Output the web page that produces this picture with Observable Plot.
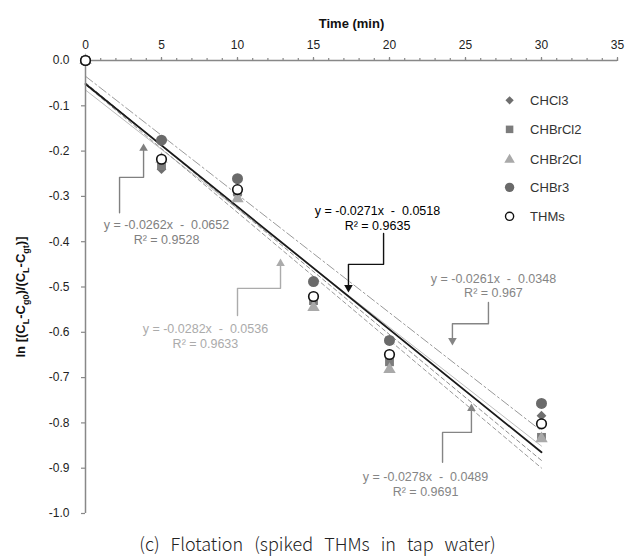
<!DOCTYPE html>
<html><head><meta charset="utf-8">
<script src="https://cdn.jsdelivr.net/npm/d3@7"></script>
<script src="https://cdn.jsdelivr.net/npm/@observablehq/plot@0.6"></script>
<style>
body{margin:0;background:#fff;}
#wrap{position:relative;width:635px;height:558px;overflow:hidden;}
#cap{position:absolute;left:0;top:530px;width:635px;text-align:center;font-family:"Noto Sans CJK KR","Noto Sans",sans-serif;font-size:18px;font-weight:300;word-spacing:7px;color:#222;line-height:26px;}
</style></head><body>
<div id="wrap"><div id="chart"></div><div id="cap">(c) Flotation (spiked THMs in tap water)</div></div>
<script>
// ---- data ----
const times = [0, 5, 10, 15, 20, 30];
const seriesNames = ["CHCl3", "CHBrCl2", "CHBr2Cl", "CHBr3", "THMs"];
const chcl3   = [0, -0.240, -0.295, -0.525, -0.655, -0.784];
const chbrcl2 = [0, -0.232, -0.290, -0.530, -0.665, -0.832];
const chbr2cl = [0, -0.218, -0.305, -0.545, -0.682, -0.835];
const chbr3   = [0, -0.176, -0.261, -0.488, -0.618, -0.757];
const thms    = [0, -0.218, -0.285, -0.521, -0.649, -0.802];
const seriesValues = [chcl3, chbrcl2, chbr2cl, chbr3, thms];
const slopes     = [-0.0262, -0.0278, -0.0282, -0.0261, -0.0271];
const intercepts = [-0.0652, -0.0489, -0.0536, -0.0348, -0.0518];
const r2         = ["0.9528", "0.9691", "0.9633", "0.967", "0.9635"];
const xTicks = [0, 5, 10, 15, 20, 25, 30, 35];
const yTicks = [0, -0.1, -0.2, -0.3, -0.4, -0.5, -0.6, -0.7, -0.8, -0.9, -1.0];

// ---- styles ----
const symbols = ["diamond2", "square", "triangle", "circle", "circle"];
const sizes = [4.4, 5.0, 4.6, 5.5, 4.8];
const fills = ["#6e6e6e", "#7c7c7c", "#a9a9a9", "#6a6a6a", "#ffffff"];
const mstroke = ["none", "none", "none", "none", "#111"];
const lineStroke = ["#bdbdbd", "#8c8c8c", "#9a9a9a", "#9a9a9a", "#1a1a1a"];
const lineWidth = [1, 1, 1, 1, 1.8];
const lineDash = [null, "4,3", "4,3", "9,3,2,3", null];
const annColor = ["#808080", "#858585", "#ababab", "#858585", "#000000"];

const points = [];
seriesValues.forEach((vals, i) => times.forEach((t, j) => points.push({t, v: vals[j], i})));
const fitX = [0, 30];

const annText = seriesNames.map((_, i) =>
  `y = ${slopes[i]}x  -  ${Math.abs(intercepts[i])}\nR² = ${r2[i]}`);

// annotation placement (data units)
const ann = [
  {i: 0, tx: 5.33, ty: -0.379, path: [[2.24,-0.336],[2.24,-0.258],[3.82,-0.258],[3.82,-0.194]], up: true},
  {i: 4, tx: 19.21, ty: -0.348, path: [[19.61,-0.382],[19.61,-0.450],[17.30,-0.450],[17.30,-0.501]], up: false},
  {i: 2, tx: 7.89, ty: -0.608, path: [[10.0,-0.563],[10.0,-0.503],[12.83,-0.503],[12.83,-0.448]], up: true},
  {i: 3, tx: 26.84, ty: -0.496, path: [[26.51,-0.534],[26.51,-0.581],[24.14,-0.581],[24.14,-0.618]], up: false},
  {i: 1, tx: 22.37, ty: -0.935, path: [[23.49,-0.887],[23.49,-0.821],[25.39,-0.821],[25.39,-0.768]], up: true}
];

const marks = [];
// fit lines
seriesNames.forEach((_, i) => {
  marks.push(Plot.line(fitX, {
    x: d => d, y: d => slopes[i] * d + intercepts[i],
    stroke: lineStroke[i], strokeWidth: lineWidth[i], strokeDasharray: lineDash[i]
  }));
});
// axes
marks.push(Plot.ruleY([0], {x1: 0, x2: 35, stroke: "#888", strokeWidth: 1.5}));
marks.push(Plot.ruleX([0], {y1: -1, y2: 0, stroke: "#888", strokeWidth: 1.5}));
marks.push(Plot.axisX({anchor: "top", ticks: d3.range(0, 36, 1), tickSize: 3, text: null, label: null, stroke: "#888", strokeWidth: 1.2}));
marks.push(Plot.axisX({anchor: "top", ticks: xTicks, tickSize: 4, tickPadding: 8, stroke: "#888", strokeWidth: 1.2,
  fill: "#222", fontSize: 12, label: null, tickFormat: d => String(d)}));
marks.push(Plot.axisY({anchor: "left", ticks: yTicks, tickSize: 4, tickPadding: 12, stroke: "#888", strokeWidth: 1.2,
  fill: "#222", fontSize: 12, label: null, tickFormat: d => (Math.abs(d) < 1e-9 ? "0.0" : d.toFixed(1))}));
// points
seriesNames.forEach((_, i) => {
  marks.push(Plot.dot(points.filter(p => p.i === i), {
    x: "t", y: "v", symbol: () => symbols[i], r: sizes[i],
    fill: fills[i], stroke: mstroke[i], strokeWidth: i === 4 ? 1.6 : 0
  }));
});
// annotations
ann.forEach(a => {
  const c = annColor[a.i] === "#000000" ? "#111" : annColor[a.i];
  marks.push(Plot.line(a.path, {x: d => d[0], y: d => d[1], stroke: c, strokeWidth: 1.4, curve: "linear"}));
  const tip = a.path[a.path.length - 1];
  marks.push(Plot.dot([tip], {x: d => d[0], y: d => d[1], symbol: "triangle", r: 3.2, rotate: a.up ? 0 : 180,
    fill: c, stroke: "none"}));
  marks.push(Plot.text([annText[a.i]], {x: a.tx, y: a.ty, text: d => d, fill: annColor[a.i],
    fontSize: 12.5, lineHeight: 1.2, textAnchor: "middle", lineAnchor: "middle"}));
});
// legend
const legY = [-0.088, -0.152, -0.219, -0.280, -0.344];
seriesNames.forEach((name, i) => {
  marks.push(Plot.dot([name], {x: 27.9, y: legY[i], symbol: () => symbols[i], r: sizes[i] * 0.85,
    fill: fills[i], stroke: mstroke[i], strokeWidth: i === 4 ? 1.4 : 0}));
  marks.push(Plot.text([name], {x: 29.25, y: legY[i], text: d => d, textAnchor: "start", fill: "#333", fontSize: 13}));
});
// title
marks.push(Plot.text(["Time (min)"], {frameAnchor: "top", dy: -42, text: d => d, fontWeight: "bold", fontSize: 13, fill: "#111"}));

const chart = Plot.plot({
  width: 635, height: 520,
  marginLeft: 85, marginRight: 18, marginTop: 60, marginBottom: 7,
  x: {domain: [0, 35], axis: null},
  y: {domain: [-1, 0], axis: null},
  style: {fontFamily: "'Liberation Sans', Arial, sans-serif", background: "#fff", overflow: "visible"},
  marks
});
document.getElementById("chart").appendChild(chart);

// y-axis title with subscripts
const svg = d3.select(chart);
const yl = svg.append("text")
  .attr("transform", "translate(25,297) rotate(-90)")
  .attr("text-anchor", "middle")
  .attr("font-family", "'Liberation Sans', Arial, sans-serif")
  .attr("font-weight", "bold").attr("font-size", 13).attr("fill", "#111");
const parts = [["ln [(C", 0], ["L", 1], ["-C", 0], ["g0", 1], [")/(C", 0], ["L", 1], ["-C", 0], ["gt", 1], [")]", 0]];
let shifted = false;
parts.forEach(([s, sub]) => {
  const t = yl.append("tspan").text(s);
  if (sub && !shifted) { t.attr("dy", 4).attr("font-size", 9); shifted = true; }
  else if (sub) { t.attr("font-size", 9); }
  else if (!sub && shifted) { t.attr("dy", -4); shifted = false; }
});
</script></body></html>
